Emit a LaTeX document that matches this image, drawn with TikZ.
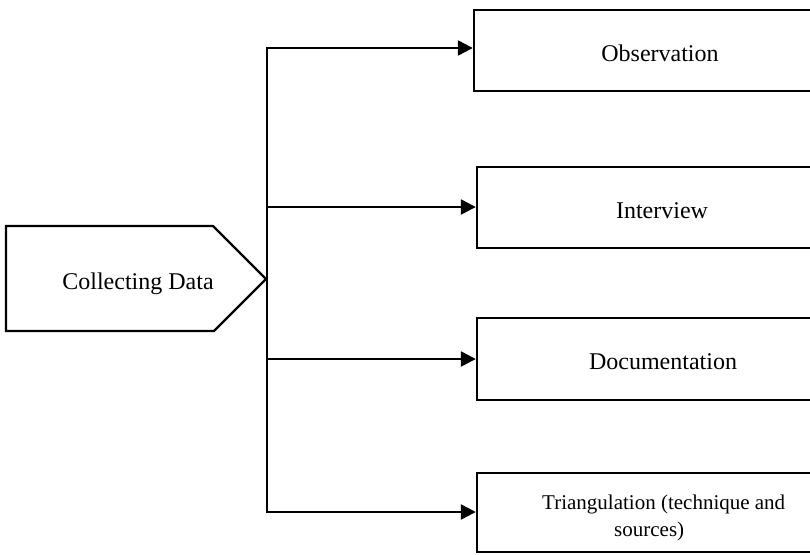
\documentclass[tikz,border=0pt]{standalone}
\usepackage{fontspec}
\setmainfont{Liberation Serif}
\usetikzlibrary{arrows.meta}
\begin{document}
\begin{tikzpicture}[x=1pt,y=-1pt,
  line width=2.4pt, line join=miter,
  boxnode/.style={draw, rectangle, inner sep=0pt},
  txt/.style={inner sep=0pt, font=\fontsize{24}{28}\selectfont},
  smalltxt/.style={inner sep=0pt, font=\fontsize{21}{25}\selectfont},
  arr/.style={-{Triangle[length=15pt,width=15pt]}}]
\useasboundingbox (0,0) rectangle (810,554);
\clip (0,0) rectangle (810,554);
% source pentagon
\draw (6,226) -- (213,226) -- (266,279) -- (214,331) -- (6,331) -- cycle;
\node[txt, anchor=base] (src) at (138,289) {Collecting Data};
% target boxes
\node[boxnode, minimum width=341pt, minimum height=81pt] (obs) at (644.5,50.5) {};
\node[boxnode, minimum width=338pt, minimum height=81pt] (int) at (646,207.5) {};
\node[boxnode, minimum width=338pt, minimum height=82pt] (doc) at (646,359) {};
\node[boxnode, minimum width=338pt, minimum height=79pt] (tri) at (646,512.5) {};
\node[txt, anchor=base] (obst) at (660,61) {Observation};
\node[txt, anchor=base] (intt) at (662,218) {Interview};
\node[txt, anchor=base] (doct) at (663,369) {Documentation};
\node[smalltxt, anchor=base west] (trit1) at (541,509) {Triangulation (technique and};
\node[smalltxt, anchor=base west] (trit2) at (613,536) {sources)};
% connectors
\coordinate (v1) at (267,48);
\coordinate (v2) at (267,207);
\coordinate (v3) at (267,359);
\coordinate (v4) at (267,512);
\draw[arr] (v3) -- (v1) -- (v1 -| obs.west);
\draw[arr] (v3) -- (v4) -- (v4 -| tri.west);
\draw[arr] (v2) -- (v2 -| int.west);
\draw[arr] (v3) -- (v3 -| doc.west);
\end{tikzpicture}
\end{document}
